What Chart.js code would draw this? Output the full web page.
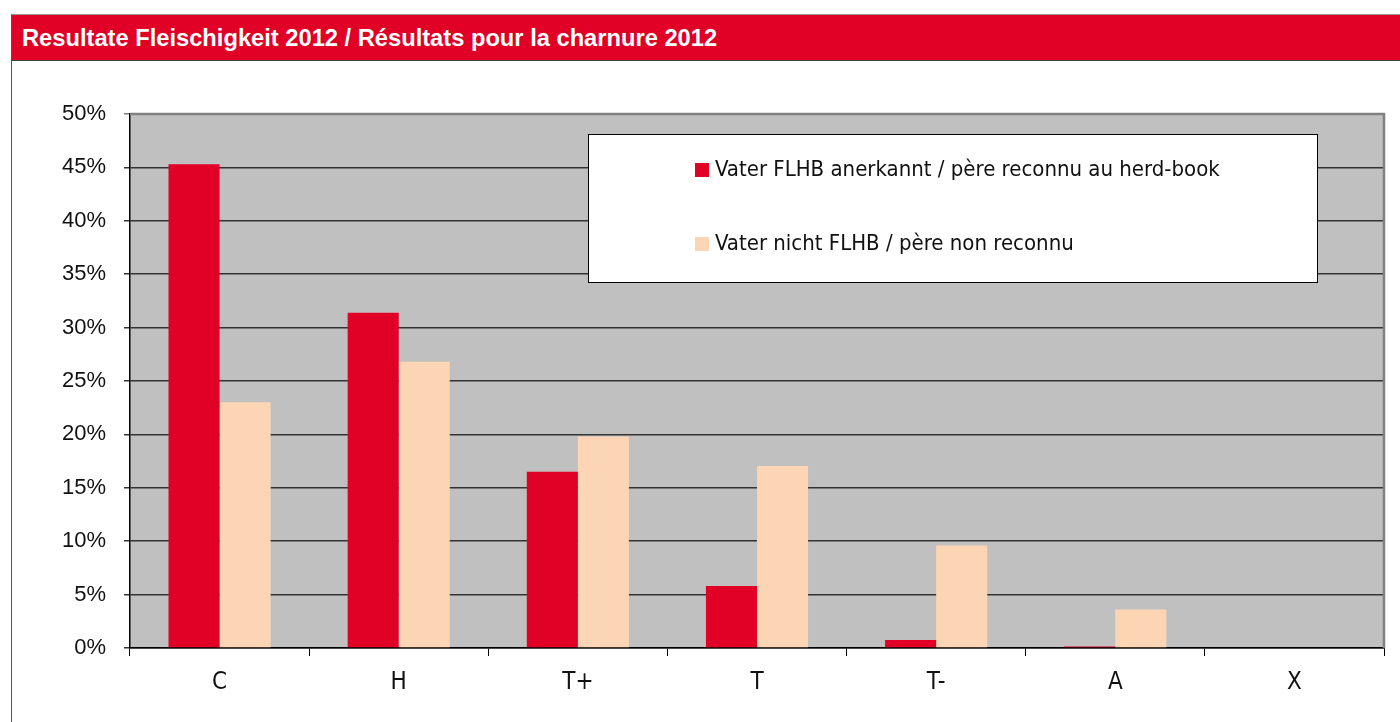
<!DOCTYPE html>
<html>
<head>
<meta charset="utf-8">
<script src="https://cdn.jsdelivr.net/npm/chart.js@4.4.1/dist/chart.umd.min.js"></script>
<style>
  html, body { margin: 0; padding: 0; background: #fff; }
  body { width: 1400px; height: 722px; position: relative; overflow: hidden; }
  #header {
    position: absolute; left: 11px; top: 14px; width: 1389px; height: 47px;
    background: #E10026; border-top: 1px solid #9a9a9a; border-bottom: 1px solid #444;
    border-left: 1px solid #555;
    color: #fff; font-family: "Liberation Sans", Arial, sans-serif; font-weight: bold;
    font-size: 23.7px; line-height: 46px; padding-left: 10px; box-sizing: border-box;
    white-space: nowrap;
  }
  #panel {
    position: absolute; left: 11px; top: 60px; width: 1389px; height: 662px;
    border-left: 1px solid #555; box-sizing: border-box;
  }
  #wrap { position: absolute; left: 0; top: 0; width: 1400px; height: 722px; }
</style>
</head>
<body>
<div id="panel"></div>
<div id="header">Resultate Fleischigkeit 2012 / Résultats pour la charnure 2012</div>
<div id="wrap"><canvas id="c" width="1400" height="722"></canvas></div>
<script>
const categories = ["C", "H", "T+", "T", "T-", "A", "X"];
const seriesNames = ["Vater FLHB anerkannt / père reconnu au herd-book", "Vater nicht FLHB / père non reconnu"];
const recognised = [45.3, 31.4, 16.5, 5.8, 0.75, 0.15, 0];
const notRecognised = [23.0, 26.8, 19.8, 17.05, 9.6, 3.6, 0];
const yTicks = [0, 5, 10, 15, 20, 25, 30, 35, 40, 45, 50];

const RED = "#E10026";
const PEACH = "#FCD5B4";
const NARROW = '"Liberation Sans Narrow", "DejaVu Sans Condensed", sans-serif';

const plotBg = {
  id: "plotBg",
  beforeDraw(chart) {
    const { ctx, chartArea: a } = chart;
    ctx.save();
    ctx.fillStyle = "#C0C0C0";
    ctx.fillRect(a.left, a.top, a.right - a.left, a.bottom - a.top);
    ctx.restore();
  },
  afterDraw(chart) {
    const { ctx, chartArea: a } = chart;
    ctx.save();
    ctx.strokeStyle = "#808080";
    ctx.lineWidth = 2.5;
    ctx.beginPath();
    ctx.moveTo(a.left, a.top);
    ctx.lineTo(a.right, a.top);
    ctx.lineTo(a.right, a.bottom);
    ctx.stroke();
    ctx.restore();
  }
};

const boxLegend = {
  id: "boxLegend",
  afterDatasetsDraw(chart) {
    const { ctx, chartArea: a } = chart;
    const bx = a.left + 458, by = a.top + 20, bw = 729, bh = 148;
    ctx.save();
    ctx.fillStyle = "#fff";
    ctx.fillRect(bx, by, bw, bh);
    ctx.strokeStyle = "#000";
    ctx.lineWidth = 1;
    ctx.strokeRect(bx + 0.5, by + 0.5, bw, bh);
    ctx.font = '22px ' + NARROW;
    ctx.textBaseline = "middle";
    chart.data.datasets.forEach((ds, i) => {
      const cy = by + 36 + i * 74;
      ctx.fillStyle = ds.backgroundColor;
      ctx.fillRect(bx + 107, cy - 7, 14, 14);
      ctx.fillStyle = "#111";
      ctx.fillText(ds.label, bx + 127, cy);
    });
    ctx.restore();
  }
};

new Chart(document.getElementById("c"), {
  type: "bar",
  data: {
    labels: categories,
    datasets: [
      { label: seriesNames[0], data: recognised, backgroundColor: RED },
      { label: seriesNames[1], data: notRecognised, backgroundColor: PEACH }
    ]
  },
  options: {
    responsive: false,
    animation: false,
    layout: { padding: { top: 114, right: 16, left: 0, bottom: 0 } },
    datasets: { bar: { categoryPercentage: 0.57, barPercentage: 1.0 } },
    plugins: { legend: { display: false }, tooltip: { enabled: false } },
    scales: {
      x: {
        grid: { drawOnChartArea: false, drawTicks: true, tickLength: 8, color: "#000", offset: true },
        border: { color: "#000", width: 1.5 },
        ticks: {
          color: "#111", padding: 12,
          font: { family: NARROW, size: 24 }
        },
        afterFit(s) { s.height = 74; }
      },
      y: {
        min: 0, max: 50,
        afterBuildTicks(s) { s.ticks = yTicks.map(v => ({ value: v })); },
        grid: {
          color: (c) => (c.tick && c.tick.value === 50 ? "#808080" : "#333"),
          lineWidth: 1.5, tickLength: 6, drawTicks: true
        },
        border: { color: "#000", width: 1.5 },
        ticks: {
          color: "#111", padding: 18,
          font: { family: '"Liberation Sans", Arial, sans-serif', size: 22 },
          callback: (v) => v + "%"
        },
        afterFit(s) { s.width = 130; }
      }
    }
  },
  plugins: [plotBg, boxLegend]
});
</script>
</body>
</html>
